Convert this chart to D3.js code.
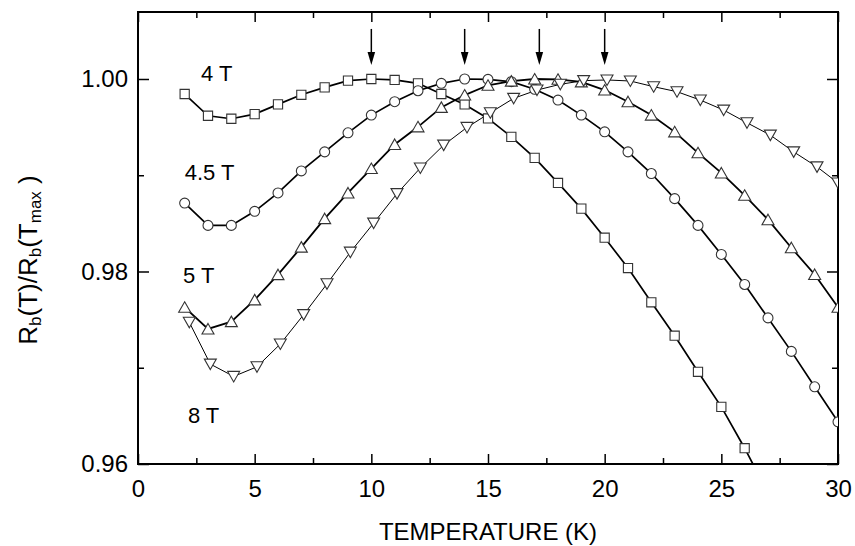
<!DOCTYPE html>
<html lang="en">
<head>
  <meta charset="UTF-8">
  <title>Rb(T)/Rb(Tmax)</title>
  <script src="https://d3js.org/d3.v7.min.js"></script>
  <style>
    body { margin: 0; background: #fff; }
    svg { font-family: "Liberation Sans", Arial, sans-serif; }
    .axis path { display: none; }
    .axis line { stroke: #000; stroke-width: 1.5; }
    .axis text { font-size: 24px; fill: #000; }
  </style>
</head>
<body>
  <svg width="855" height="546"></svg>

  <script>
    // temperatures (K)
    const temp4T  = [2,3,4,5,6,7,8,9,10,11,12,13,14,15,16,17,18,19,20,21,22,23,24,25,26,27];
    const temp45T = [2,3,4,5,6,7,8,9,10,11,12,13,14,15,16,17,18,19,20,21,22,23,24,25,26,27,28,29,30];
    const temp5T  = [2,3,4,5,6,7,8,9,10,11,12,13,14,15,16,17,18,19,20,21,22,23,24,25,26,27,28,29,30];
    const temp8T  = [2.2,3.1,4.1,5.1,6.1,7.1,8.1,9.1,10.1,11.1,12.1,13.1,14.1,15.1,16.1,17.1,18.1,19.1,20.1,21.1,22.1,23.1,24.1,25.1,26.1,27.1,28.1,29.1,30.0];

    // normalized resistance
    const r4T  = [0.99844,0.99618,0.99587,0.99635,0.99736,0.99836,0.99913,0.99983,1.00000,0.99990,0.99955,0.99844,0.99736,0.99590,
                  0.99399,0.99180,0.98920,0.98653,0.98351,0.98036,0.97680,0.97333,0.96958,0.96594,0.96164,0.95700];
    const r45T = [0.98711,0.98479,0.98479,0.98625,0.98816,0.99045,0.99243,0.99441,0.99625,0.99764,0.99878,0.99955,1.00000,
                  0.99996,0.99972,0.99893,0.99781,0.99625,0.99451,0.99243,0.99018,0.98757,0.98479,0.98177,0.97865,0.97518,0.97170,0.96802,0.96438];
    const r5T  = [0.97628,0.97403,0.97479,0.97705,0.97967,0.98253,0.98549,0.98816,0.99070,0.99320,0.99503,0.99705,0.99833,
                  0.99935,0.99978,1.00000,0.99997,0.99970,0.99885,0.99764,0.99625,0.99451,0.99233,0.99024,0.98792,0.98538,0.98247,0.97969,0.97628];
    const r8T  = [0.97472,0.97038,0.96910,0.97010,0.97247,0.97552,0.97872,0.98201,0.98503,0.98809,0.99076,0.99313,0.99497,0.99650,
                  0.99799,0.99885,0.99945,0.99983,0.99990,0.99979,0.99920,0.99868,0.99781,0.99677,0.99545,0.99417,0.99243,0.99087,0.98920];

    // field labels and where they sit (data units)
    const fieldLabels = ["4 T", "4.5 T", "5 T", "8 T"];
    const labelT = [2.7, 2.0, 1.93, 2.14];
    const labelR = [0.9998, 0.98951, 0.97881, 0.96426];

    // arrows marking T_max
    const arrowT = [10, 14, 17.2, 20];

    const xTicks = [0, 5, 10, 15, 20, 25, 30];
    const xMinor = [2.5, 7.5, 12.5, 17.5, 22.5, 27.5];
    const yTicks = [0.96, 0.98, 1.00];
    const yMinor = [0.97, 0.99];

    const svgWidth = 855, svgHeight = 546;
    const margin = { top: 12, right: 17, bottom: 82, left: 138 };
    const width = svgWidth - margin.left - margin.right;
    const height = svgHeight - margin.top - margin.bottom;

    const svg = d3.select("svg");
    const g = svg.append("g").attr("transform", `translate(${margin.left},${margin.top})`);

    const x = d3.scaleLinear().domain([0, 30]).range([0, width]);
    const y = d3.scaleLinear().domain([0.96, 1.00696]).range([height, 0]);

    g.append("clipPath").attr("id", "plot")
      .append("rect").attr("width", width).attr("height", height);

    // axes: ticks inward on all four sides
    g.append("g").attr("class", "axis").attr("transform", `translate(0,${height})`)
      .call(d3.axisBottom(x).tickValues(xTicks).tickSize(-10).tickPadding(16));
    g.append("g").attr("class", "axis").attr("transform", `translate(0,${height})`)
      .call(d3.axisBottom(x).tickValues(xMinor).tickSize(-6).tickFormat(""));
    g.append("g").attr("class", "axis")
      .call(d3.axisTop(x).tickValues(xTicks).tickSize(-10).tickFormat(""));
    g.append("g").attr("class", "axis")
      .call(d3.axisTop(x).tickValues(xMinor).tickSize(-6).tickFormat(""));

    g.append("g").attr("class", "axis")
      .call(d3.axisLeft(y).tickValues(yTicks).tickSize(-11).tickPadding(10).tickFormat(d3.format(".2f")));
    g.append("g").attr("class", "axis")
      .call(d3.axisLeft(y).tickValues(yMinor).tickSize(-6).tickFormat(""));
    g.append("g").attr("class", "axis").attr("transform", `translate(${width},0)`)
      .call(d3.axisRight(y).tickValues(yTicks).tickSize(-11).tickFormat(""));
    g.append("g").attr("class", "axis").attr("transform", `translate(${width},0)`)
      .call(d3.axisRight(y).tickValues(yMinor).tickSize(-6).tickFormat(""));

    // frame
    g.append("rect").attr("width", width).attr("height", height)
      .attr("fill", "none").attr("stroke", "#000").attr("stroke-width", 2);

    const series = [
      { t: temp4T,  r: r4T,  shape: "square", lw: 1.7 },
      { t: temp45T, r: r45T, shape: "circle", lw: 1.7 },
      { t: temp5T,  r: r5T,  shape: "up",     lw: 1.8 },
      { t: temp8T,  r: r8T,  shape: "down",   lw: 1.0 }
    ];

    function markerPath(shape) {
      if (shape === "square") return "M-4.6,-4.6H4.6V4.6H-4.6Z";
      if (shape === "circle") return d3.symbol(d3.symbolCircle, 78)();
      if (shape === "up") return "M0,-5.5L6,5L-6,5Z";
      return "M0,5.5L6,-5L-6,-5Z";
    }

    const plot = g.append("g").attr("clip-path", "url(#plot)");
    const line = d3.line().x(d => x(d[0])).y(d => y(d[1]));

    series.forEach(s => {
      const pts = s.t.map((t, i) => [t, s.r[i]]);
      plot.append("path").datum(pts)
        .attr("d", line)
        .attr("fill", "none").attr("stroke", "#000").attr("stroke-width", s.lw);
    });
    series.forEach(s => {
      const pts = s.t.map((t, i) => [t, s.r[i]]);
      plot.selectAll(null).data(pts).enter().append("path")
        .attr("d", markerPath(s.shape))
        .attr("transform", d => `translate(${x(d[0])},${y(d[1])})`)
        .attr("fill", "#fff").attr("stroke", "#333").attr("stroke-width", 1.1);
    });

    // arrows
    const arrowTop = 1.0052, arrowTip = 1.00146;
    arrowT.forEach(t => {
      g.append("line")
        .attr("x1", x(t)).attr("x2", x(t))
        .attr("y1", y(arrowTop)).attr("y2", y(arrowTip) - 10)
        .attr("stroke", "#000").attr("stroke-width", 1.5);
      g.append("path")
        .attr("d", `M${x(t) - 3.8},${y(arrowTip) - 13}L${x(t) + 3.8},${y(arrowTip) - 13}L${x(t)},${y(arrowTip)}Z`)
        .attr("fill", "#000");
    });

    // field labels
    g.selectAll(".flabel").data(fieldLabels).enter().append("text")
      .attr("class", "flabel")
      .attr("x", (d, i) => x(labelT[i]))
      .attr("y", (d, i) => y(labelR[i]))
      .style("font-size", "22px")
      .text(d => d);

    // axis titles
    svg.append("text")
      .attr("x", margin.left + width / 2)
      .attr("y", 540)
      .attr("text-anchor", "middle")
      .style("font-size", "24px")
      .text("TEMPERATURE (K)");

    const yt = svg.append("text")
      .attr("transform", "translate(37,260) rotate(-90)")
      .attr("text-anchor", "middle")
      .style("font-size", "26px");
    yt.append("tspan").text("R");
    yt.append("tspan").attr("baseline-shift", "-25%").style("font-size", "17px").text("b");
    yt.append("tspan").text("(T)/R");
    yt.append("tspan").attr("baseline-shift", "-25%").style("font-size", "17px").text("b");
    yt.append("tspan").text("(T");
    yt.append("tspan").attr("baseline-shift", "-25%").style("font-size", "17px").text("max");
    yt.append("tspan").text(" )");
  </script>
</body>
</html>
